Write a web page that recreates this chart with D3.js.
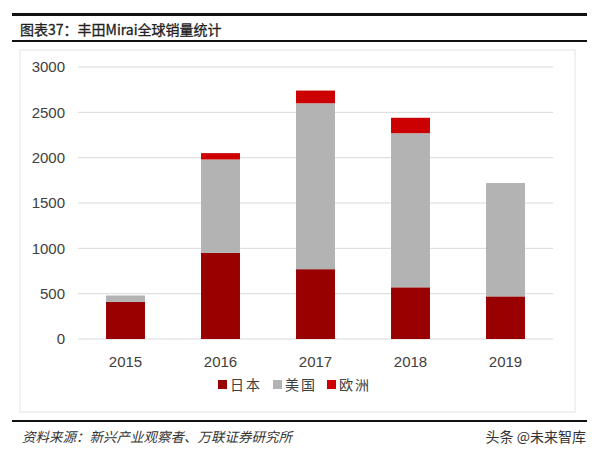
<!DOCTYPE html>
<html><head><meta charset="utf-8">
<script src="https://cdn.jsdelivr.net/npm/d3@7"></script>
<style>body{margin:0;background:#fff}svg{display:block}</style>
</head><body>
<svg id="chart" width="599" height="456"></svg>
<script>
// Data
const years = ['2015', '2016', '2017', '2018', '2019'];
const japan = [410, 950, 770, 570, 470];
const usa = [70, 1030, 1830, 1700, 1250];
const europe = [0, 70, 140, 170, 0];
const seriesNames = ['日本', '美国', '欧洲'];
const seriesColors = ['#990000', '#b3b3b3', '#cc0000'];
const yTicks = [0, 500, 1000, 1500, 2000, 2500, 3000];

const svg = d3.select('#chart');
const cjk = '"Noto Sans CJK SC", sans-serif';

// Title block
svg.append('rect').attr('x', 12).attr('y', 13).attr('width', 575).attr('height', 3).attr('fill', '#111');
svg.append('text').attr('x', 20).attr('y', 35).style('font-family', cjk).style('font-size', '14px')
    .attr('fill', '#222').attr('stroke', '#222').attr('stroke-width', 0.3).text('图表37：丰田Mirai全球销量统计');
svg.append('rect').attr('x', 12).attr('y', 40).attr('height', 2).attr('width', 575).attr('fill', '#111');

// Chart frame
svg.append('rect').attr('x', 20).attr('y', 50).attr('width', 555).attr('height', 362)
    .attr('fill', 'none').attr('stroke', '#e3e3e3');

// Scales
const xScale = d3.scaleBand().domain(years).range([78, 553]).paddingInner(0.59).paddingOuter(0.295);
const yScale = d3.scaleLinear().domain([0, 3000]).range([339, 67]);

// Grid
svg.append('g').selectAll('line').data(yTicks).enter().append('line')
    .attr('x1', 78).attr('x2', 553)
    .attr('y1', d => yScale(d)).attr('y2', d => yScale(d))
    .attr('stroke', '#d9d9d9');

// Stacked bars
const rows = years.map((y, i) => ({ year: y, 0: japan[i], 1: usa[i], 2: europe[i] }));
const stacked = d3.stack().keys([0, 1, 2])(rows);
svg.append('g').selectAll('g').data(stacked).enter().append('g')
    .attr('fill', (d, i) => seriesColors[i])
    .selectAll('rect').data(d => d).enter().append('rect')
    .attr('x', d => xScale(d.data.year))
    .attr('width', xScale.bandwidth())
    .attr('y', d => yScale(d[1]))
    .attr('height', d => yScale(d[0]) - yScale(d[1]));

// Axes
const yAxis = svg.append('g').attr('transform', 'translate(68,0)')
    .call(d3.axisLeft(yScale).tickValues(yTicks).tickSize(0).tickFormat(d3.format('d')));
yAxis.select('.domain').remove();
yAxis.selectAll('text').style('font-family', 'Arial, "Liberation Sans", sans-serif')
    .style('font-size', '15px').attr('fill', '#404040');

const xAxis = svg.append('g').attr('transform', 'translate(0,350)')
    .call(d3.axisBottom(xScale).tickSize(0));
xAxis.select('.domain').remove();
xAxis.selectAll('text').attr('dy', '0.9em').style('font-family', 'Arial, "Liberation Sans", sans-serif')
    .style('font-size', '15px').attr('fill', '#404040');

// Legend
const legendX = [218, 273, 327];
const legend = svg.append('g').selectAll('g').data(seriesNames).enter().append('g')
    .attr('transform', (d, i) => `translate(${legendX[i]},386)`);
legend.append('rect').attr('x', 0).attr('y', -6).attr('width', 9).attr('height', 9)
    .attr('fill', (d, i) => seriesColors[i]);
legend.append('text').attr('x', 12).attr('y', 4).style('font-family', cjk).style('font-size', '14px')
    .attr('letter-spacing', '2px').attr('fill', '#404040').text(d => d);

// Footer
svg.append('rect').attr('x', 12).attr('y', 420).attr('width', 575).attr('height', 2).attr('fill', '#111');
svg.append('text').attr('x', 22).attr('y', 442).style('font-family', cjk).style('font-size', '13.5px')
    .style('font-style', 'italic').attr('fill', '#333').text('资料来源：新兴产业观察者、万联证券研究所');
svg.append('text').attr('x', 586).attr('y', 442).attr('text-anchor', 'end').style('font-family', cjk)
    .style('font-size', '14px').attr('fill', '#333').text('头条 @未来智库');
</script>
</body></html>
